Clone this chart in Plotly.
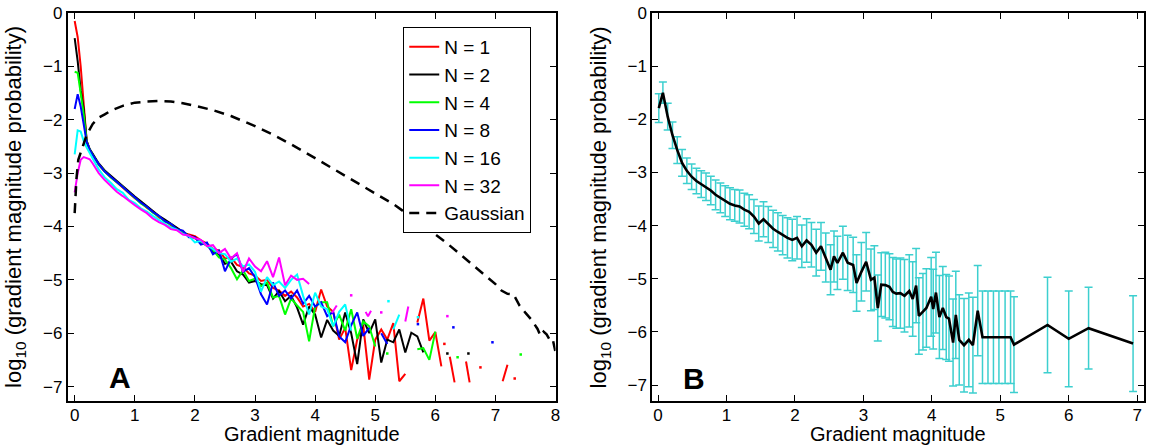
import plotly.graph_objects as go

# ---------------- Panel A data ----------------
X_GRID = [0.0, 0.05, 0.1, 0.15, 0.2, 0.25,
          0.3, 0.4, 0.5, 0.6, 0.7, 0.8, 0.9, 1.0, 1.1, 1.2,
          1.3, 1.4, 1.5, 1.6, 1.7, 1.8, 1.9, 2.0, 2.1, 2.2,
          2.3, 2.4, 2.5, 2.6, 2.7, 2.8, 2.9, 3.0, 3.1, 3.2,
          3.3, 3.4, 3.5, 3.6, 3.7, 3.8, 3.9, 4.0, 4.1, 4.2,
          4.3, 4.4, 4.5, 4.6, 4.7, 4.8, 4.9, 5.0, 5.1, 5.2,
          5.3, 5.4, 5.5, 5.6, 5.7, 5.8, 5.9, 6.0, 6.1]

N = None
red_n1 = [-0.15, -0.45, -1.0, -1.75, -2.4, -2.56,
          -2.66, -2.84, -2.97, -3.07, -3.16, -3.27, -3.36, -3.47, -3.55, -3.65,
          -3.72, -3.83, -3.88, -3.98, -4.03, -4.12, -4.15, -4.18, -4.26, -4.32,
          -4.42, -4.45, -4.6, -4.58, -4.72, -4.76, -4.88, -4.92, -5.02, -5.0,
          -5.15, -5.2, -5.3, -5.22, -5.33, -5.5, -5.45, -5.6, -5.18, -5.5,
          -5.6, -6.12, -5.9, -6.69, -6.12, -5.85, -6.87, -6.12, -5.93, -6.12,
          -5.81, -6.9, -6.76, N, -5.8, -5.35, -6.14, -5.98, -6.62]
black_n2 = [-0.47, -0.9, -1.45, -1.8, -2.4, -2.55,
            -2.64, -2.82, -2.95, -3.05, -3.14, -3.24, -3.34, -3.44, -3.53, -3.62,
            -3.7, -3.8, -3.87, -3.95, -4.03, -4.1, -4.17, -4.2, -4.3, -4.35,
            -4.47, -4.52, -4.7, -4.66, -4.84, -4.9, -5.05, -5.02, -5.08, -5.1,
            -5.35, -5.21, -5.4, -5.3, -5.52, -5.84, -5.5, -5.65, -6.08, -5.75,
            -5.95, -6.05, -5.61, -6.0, -6.58, -5.74, -6.0, -5.74, -6.55, -6.12,
            -6.17, -5.93, -6.36, -5.99, -6.06, -6.36, N, N, N]
green_n4 = [-1.1, -1.12, -1.5, -1.9, -2.42, -2.56,
            -2.66, -2.84, -2.97, -3.08, -3.17, -3.26, -3.37, -3.46, -3.57, -3.64,
            -3.74, -3.81, -3.91, -3.96, -4.06, -4.1, -4.18, -4.22, -4.3, -4.36,
            -4.44, -4.58, -4.62, -4.78, -4.99, -4.82, -5.02, -4.98, -5.12, -5.05,
            -5.33, -5.3, -5.65, -5.35, -5.48, -5.6, -6.15, -5.5, -5.42, -5.42,
            -5.87, -5.65, -5.95, -5.55, -6.1, -5.78, -5.87, -6.25, N, N,
            N, N, N, N, -6.3, -6.28, -6.5, -5.97, N]
blue_n8 = [-1.8, -1.52, -1.75, -2.1, -2.42, -2.56,
           -2.66, -2.83, -2.97, -3.07, -3.16, -3.26, -3.36, -3.46, -3.55, -3.63,
           -3.73, -3.8, -3.9, -3.95, -4.05, -4.08, -4.2, -4.2, -4.34, -4.3,
           -4.52, -4.45, -4.84, -4.6, -4.52, -4.85, -4.78, -4.95, -5.27, -5.46,
           -5.05, -5.3, -5.2, -5.35, -5.2, -5.45, -5.3, -5.5, -5.42, -5.68,
           -5.6, -6.06, -6.17, -5.85, -5.61, -6.05, -5.9, N, -6.0, -6.2,
           N, N, N, N, N, N, N, N, N]
cyan_n16 = [-2.65, -2.2, -2.22, -2.4, -2.52, -2.63,
            -2.74, -2.93, -3.08, -3.18, -3.3, -3.37, -3.5, -3.56, -3.66, -3.72,
            -3.8, -3.88, -3.95, -4.02, -4.06, -4.14, -4.18, -4.3, -4.27, -4.36,
            -4.42, -4.5, -4.52, -4.66, -4.6, -4.75, -4.71, -4.85, -5.22, -4.95,
            -5.1, -5.03, -5.15, -5.0, -4.9, -5.3, -5.65, -5.24, -5.5, -5.55,
            -5.87, -5.6, -5.46, -5.95, N, N, N, N, N, N,
            -5.93, -5.65, N, N, N, N, N, N, N]
magenta_n32 = [-3.36, -3.0, -2.75, -2.7, -2.72, -2.74,
               -2.82, -3.0, -3.13, -3.25, -3.35, -3.43, -3.52, -3.6, -3.68, -3.75,
               -3.85, -3.92, -3.97, -4.05, -4.07, -4.15, -4.17, -4.22, -4.25, -4.37,
               -4.35, -4.5, -4.42, -4.6, -4.5, -4.85, -4.6, -4.75, -4.84, -4.65,
               -4.95, -4.58, -5.1, -4.92, -5.0, -4.98, -5.08, N, N, N,
               N, N, N, N, N, N, N, N, N, N,
               N, N, N, N, N, N, N, N, N]

# short isolated segments in the sparse tails
red_seg_x = [6.24, 6.32, None, 6.51, 6.57, None, 7.12, 7.2]
red_seg_y = [-6.44, -6.92, None, -6.53, -6.92, None, -6.9, -6.59]
magenta_seg_x = [4.28, 4.36, None, 4.84, 4.88, 4.93, None, 5.5, 5.55]
magenta_seg_y = [-5.62, -5.48, None, -5.6, -5.68, -5.58, None, -5.78, -5.5]

# isolated single-bin points
red_dot_x = [6.15, 6.75, 7.32]
red_dot_y = [-6.2, -6.64, -6.85]
black_dot_x = [6.2, 6.55]
black_dot_y = [-6.38, -6.38]
green_dot_x = [5.2, 6.37, 7.42]
green_dot_y = [-6.38, -6.45, -6.4]
blue_dot_x = [5.71, 6.3, 6.95]
blue_dot_y = [-5.83, -5.89, -6.17]
cyan_dot_x = [5.22, 5.71]
cyan_dot_y = [-5.4, -5.7]
magenta_dot_x = [4.6, 5.1, 6.2]
magenta_dot_y = [-5.29, -5.61, -5.68]

gauss_x = [0.0, 0.03, 0.06, 0.1, 0.15, 0.2, 0.3, 0.4, 0.5, 0.6, 0.8, 1.0, 1.2, 1.4,
           1.6, 1.8, 2.0, 2.3, 2.6, 3.0, 3.3, 3.6, 4.0, 4.3, 4.7, 5.0, 5.3, 5.6,
           5.9, 6.2, 6.5, 6.7, 6.9, 7.0, 7.1, 7.2, 7.3, 7.4, 7.5, 7.6, 7.7, 7.75,
           7.8, 7.85, 7.9, 7.95, 8.0]
gauss_y = [-3.75, -3.1, -2.75, -2.62, -2.42, -2.28, -2.08, -1.96, -1.9, -1.83, -1.74,
           -1.68, -1.66, -1.65, -1.66, -1.69, -1.74, -1.82, -1.93, -2.12, -2.28,
           -2.46, -2.72, -2.92, -3.18, -3.38, -3.58, -3.82, -4.06, -4.32, -4.6,
           -4.8, -4.98, -5.08, -5.2, -5.26, -5.27, -5.48, -5.62, -5.75, -5.92,
           -6.05, -5.97, -6.02, -6.12, -6.1, -6.36]

# ---------------- Panel B data ----------------
b_x = [0.01, 0.07, 0.14, 0.21, 0.28, 0.35, 0.42, 0.49, 0.56, 0.63,
       0.70, 0.77, 0.84, 0.91, 0.98, 1.05, 1.12, 1.19, 1.26, 1.33,
       1.40, 1.47, 1.54, 1.61, 1.68, 1.75, 1.82, 1.89, 1.96, 2.03,
       2.10, 2.17, 2.24, 2.31, 2.38, 2.45,
       2.52, 2.57, 2.62, 2.7, 2.77, 2.85, 2.9, 2.97, 3.04, 3.11,
       3.16, 3.21, 3.26, 3.32, 3.38, 3.43, 3.48, 3.54, 3.6, 3.67,
       3.72, 3.77, 3.81, 3.87, 3.92, 3.99, 4.02, 4.06, 4.11, 4.16,
       4.21, 4.25, 4.31, 4.35, 4.4, 4.47, 4.54, 4.6, 4.67, 4.74,
       4.82, 4.9, 4.98, 5.07, 5.15, 5.2, 5.69, 6.0, 6.29, 6.94]
b_mean = [-1.79, -1.5, -1.95, -2.3, -2.58, -2.82, -2.97, -3.08, -3.16, -3.22,
          -3.27, -3.34, -3.42, -3.48, -3.54, -3.59, -3.62, -3.64, -3.7, -3.74,
          -3.83, -3.96, -3.88, -3.98, -4.06, -4.12, -4.18, -4.23, -4.27, -4.23,
          -4.39, -4.28, -4.36, -4.51, -4.39, -4.6,
          -4.83, -4.58, -4.7, -4.51, -4.7, -4.74, -5.08, -4.87, -4.68, -5.02,
          -4.98, -5.55, -5.11, -5.12, -5.15, -5.25, -5.28, -5.27, -5.32, -5.23,
          -5.38, -5.13, -5.7, -5.62, -5.55, -5.34, -5.57, -5.26, -5.72, -5.55,
          -5.72, -5.75, -6.2, -5.68, -6.15, -6.25, -6.15, -6.25, -5.6, -6.1,
          -6.1, -6.1, -6.1, -6.1, -6.1, -6.24, -5.87, -6.13, -5.93, -6.22]
b_err = [0.27, 0.2, 0.25, 0.25, 0.25, 0.25, 0.24, 0.24, 0.24, 0.25,
         0.26, 0.27, 0.28, 0.28, 0.29, 0.3, 0.3, 0.31, 0.31, 0.32,
         0.32, 0.33, 0.33, 0.34, 0.35, 0.36, 0.37, 0.38, 0.39, 0.4,
         0.4, 0.41, 0.42, 0.44, 0.45, 0.46,
         0.47, 0.48, 0.5, 0.5, 0.52, 0.52, 0.53, 0.55, 0.55, 0.58,
         0.6, 0.62, 0.6, 0.62, 0.62, 0.65, 0.65, 0.66, 0.68, 0.68,
         0.7, 0.7, 0.72, 0.72, 0.74, 0.74, 0.75, 0.76, 0.78, 0.78,
         0.8, 0.8, 0.82, 0.82, 0.85, 0.88, 0.88, 0.9, 0.85, 0.87,
         0.87, 0.87, 0.87, 0.87, 0.87, 0.9, 0.9, 0.9, 0.77, 0.9]

ticks_a_x = [0, 1, 2, 3, 4, 5, 6, 7, 8]
ticks_b_x = [0, 1, 2, 3, 4, 5, 6, 7]
ticks_y = [-7, -6, -5, -4, -3, -2, -1, 0]

FONT = "Liberation Sans, Arial, Helvetica, sans-serif"

fig = go.Figure()

series = [
    ("N = 1", "#FF0000", red_n1, red_dot_x, red_dot_y),
    ("N = 2", "#000000", black_n2, black_dot_x, black_dot_y),
    ("N = 4", "#00FF00", green_n4, green_dot_x, green_dot_y),
    ("N = 8", "#0000FF", blue_n8, blue_dot_x, blue_dot_y),
    ("N = 16", "#00FFFF", cyan_n16, cyan_dot_x, cyan_dot_y),
    ("N = 32", "#FF00FF", magenta_n32, magenta_dot_x, magenta_dot_y),
]
for name, col, ys, dx, dy in series:
    fig.add_trace(go.Scatter(x=X_GRID, y=ys, mode="lines", name=name,
                             line=dict(color=col, width=2), connectgaps=False,
                             xaxis="x", yaxis="y", legendgroup=name))
    fig.add_trace(go.Scatter(x=dx, y=dy, mode="markers", showlegend=False,
                             marker=dict(color=col, size=2.5, symbol="square"),
                             xaxis="x", yaxis="y", legendgroup=name))
    if name == "N = 1":
        fig.add_trace(go.Scatter(x=red_seg_x, y=red_seg_y, mode="lines", showlegend=False,
                                 line=dict(color=col, width=2), xaxis="x", yaxis="y",
                                 legendgroup=name))
    if name == "N = 32":
        fig.add_trace(go.Scatter(x=magenta_seg_x, y=magenta_seg_y, mode="lines",
                                 showlegend=False, line=dict(color=col, width=2),
                                 xaxis="x", yaxis="y", legendgroup=name))

fig.add_trace(go.Scatter(x=gauss_x, y=gauss_y, mode="lines", name="Gaussian",
                         line=dict(color="black", width=2.5, dash="10px,7px"),
                         xaxis="x", yaxis="y", legendgroup="Gaussian"))

# Panel B
fig.add_trace(go.Scatter(x=b_x, y=b_mean, mode="markers", showlegend=False,
                         marker=dict(size=1, color="rgba(0,0,0,0)"),
                         error_y=dict(type="data", array=b_err, visible=True,
                                      color="#3CCFCF", thickness=1.5, width=4),
                         xaxis="x2", yaxis="y2"))
fig.add_trace(go.Scatter(x=b_x, y=b_mean, mode="lines", showlegend=False,
                         line=dict(color="black", width=2.6),
                         xaxis="x2", yaxis="y2"))

axis_common = dict(showline=True, linecolor="black", linewidth=1.6, mirror="ticks",
                   ticks="inside", ticklen=6, tickwidth=1.1, tickcolor="black",
                   showgrid=False, zeroline=False,
                   tickfont=dict(family=FONT, size=17, color="black"))

fig.update_layout(
    width=1152, height=446,
    margin=dict(l=0, r=0, t=13, b=45),
    paper_bgcolor="white", plot_bgcolor="white",
    font=dict(family=FONT, color="black"),
    showlegend=True,
    xaxis=dict(domain=[68 / 1152, 558 / 1152], range=[-0.116, 8.0],
               tickvals=ticks_a_x, anchor="y", ticklabelstandoff=-2, **axis_common),
    yaxis=dict(domain=[0, 1], range=[-7.27, 0], tickvals=ticks_y, anchor="x",
               **axis_common),
    xaxis2=dict(domain=[655 / 1152, 1149 / 1152], range=[-0.087, 7.1],
                tickvals=ticks_b_x, anchor="y2", ticklabelstandoff=-2, **axis_common),
    yaxis2=dict(domain=[0, 1], range=[-7.3, 0], tickvals=ticks_y, anchor="x2",
                **axis_common),
    legend=dict(x=405 / 1152, y=(401 - 27) / 388, xanchor="left", yanchor="top",
                bgcolor="white", bordercolor="black", borderwidth=1,
                font=dict(family=FONT, size=19, color="black"),
                tracegroupgap=0),
    annotations=[
        dict(text="Gradient magnitude", x=313 / 1152, y=-0.085, xref="paper", yref="paper",
             showarrow=False, xanchor="center", yanchor="middle",
             font=dict(family=FONT, size=20, color="black")),
        dict(text="Gradient magnitude", x=902 / 1152, y=-0.085, xref="paper", yref="paper",
             showarrow=False, xanchor="center", yanchor="middle",
             font=dict(family=FONT, size=20, color="black")),
        dict(text="log<sub>10</sub> (gradient magnitude probability)", x=15 / 1152, y=0.5,
             xref="paper", yref="paper", showarrow=False, textangle=-90,
             xanchor="center", yanchor="middle",
             font=dict(family=FONT, size=22, color="black")),
        dict(text="log<sub>10</sub> (gradient magnitude probability)", x=603 / 1152, y=0.5,
             xref="paper", yref="paper", showarrow=False, textangle=-90,
             xanchor="center", yanchor="middle",
             font=dict(family=FONT, size=22, color="black")),
        dict(text="<b>A</b>", x=0.76, y=-6.83, xref="x", yref="y", showarrow=False,
             xanchor="center", yanchor="middle",
             font=dict(family=FONT, size=30, color="black")),
        dict(text="<b>B</b>", x=0.52, y=-6.87, xref="x2", yref="y2", showarrow=False,
             xanchor="center", yanchor="middle",
             font=dict(family=FONT, size=30, color="black")),
    ],
)

fig.write_html("out.html")
